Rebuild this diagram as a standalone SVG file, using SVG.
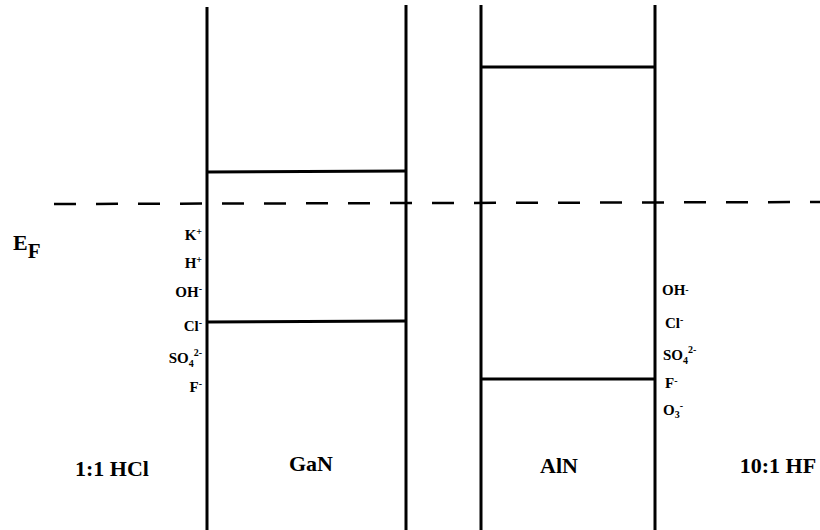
<svg xmlns="http://www.w3.org/2000/svg" width="820" height="530" viewBox="0 0 820 530">
<style>
.ln{stroke:#000;stroke-width:3;fill:none}
.ds{stroke:#000;stroke-width:2.5;stroke-dasharray:22 20;fill:none}
.t{font-family:"Liberation Serif",serif;font-weight:bold;fill:#000}
.s{font-size:15px}
.b{font-size:22px}
.sup{font-size:10px}
</style>
<rect width="820" height="530" fill="#fff"/>
<g id="connectors">
<line class="ds" x1="54" y1="204" x2="820" y2="202"/>
</g>
<g id="GaN">
<line class="ln" x1="207" y1="7" x2="207" y2="530"/>
<line class="ln" x1="406" y1="5" x2="406" y2="530"/>
<line class="ln" x1="207" y1="172" x2="406" y2="171"/>
<line class="ln" x1="207" y1="322" x2="406" y2="321"/>
<text class="t b" x="311" y="471" text-anchor="middle">GaN</text>
</g>
<g id="AlN">
<line class="ln" x1="481" y1="5" x2="481" y2="530"/>
<line class="ln" x1="655" y1="5" x2="655" y2="530"/>
<line class="ln" x1="481" y1="67" x2="655" y2="67"/>
<line class="ln" x1="481" y1="379" x2="655" y2="379"/>
<text class="t b" x="559" y="473" text-anchor="middle">AlN</text>
</g>
<g id="EF">
<text class="t" x="13" y="250" font-size="22">E<tspan font-size="21" dy="8">F</tspan></text>
</g>
<g id="HCl">
<text class="t s" x="202" y="240" text-anchor="end">K<tspan class="sup" dy="-5">+</tspan></text>
<text class="t s" x="202" y="268" text-anchor="end">H<tspan class="sup" dy="-5">+</tspan></text>
<text class="t s" x="202" y="297" text-anchor="end">OH<tspan class="sup" dy="-5">-</tspan></text>
<text class="t s" x="202" y="331" text-anchor="end">Cl<tspan class="sup" dy="-5">-</tspan></text>
<text class="t s" x="202" y="363" text-anchor="end">SO<tspan class="sup" dy="4">4</tspan><tspan class="sup" dy="-11">2-</tspan></text>
<text class="t s" x="202" y="392" text-anchor="end">F<tspan class="sup" dy="-5">-</tspan></text>
<text class="t b" x="112" y="476" text-anchor="middle">1:1 HCl</text>
</g>
<g id="HF">
<text class="t s" x="662" y="295">OH<tspan class="sup" dy="-2">-</tspan></text>
<text class="t s" x="665" y="328">Cl<tspan class="sup" dy="-5">-</tspan></text>
<text class="t s" x="663" y="360">SO<tspan class="sup" dy="4">4</tspan><tspan class="sup" dy="-11">2-</tspan></text>
<text class="t s" x="665" y="388">F<tspan class="sup" dy="-4">-</tspan></text>
<text class="t s" x="663" y="415">O<tspan class="sup" dy="3">3</tspan><tspan class="sup" dy="-9">-</tspan></text>
<text class="t b" x="778" y="473" text-anchor="middle">10:1 HF</text>
</g>
</svg>
